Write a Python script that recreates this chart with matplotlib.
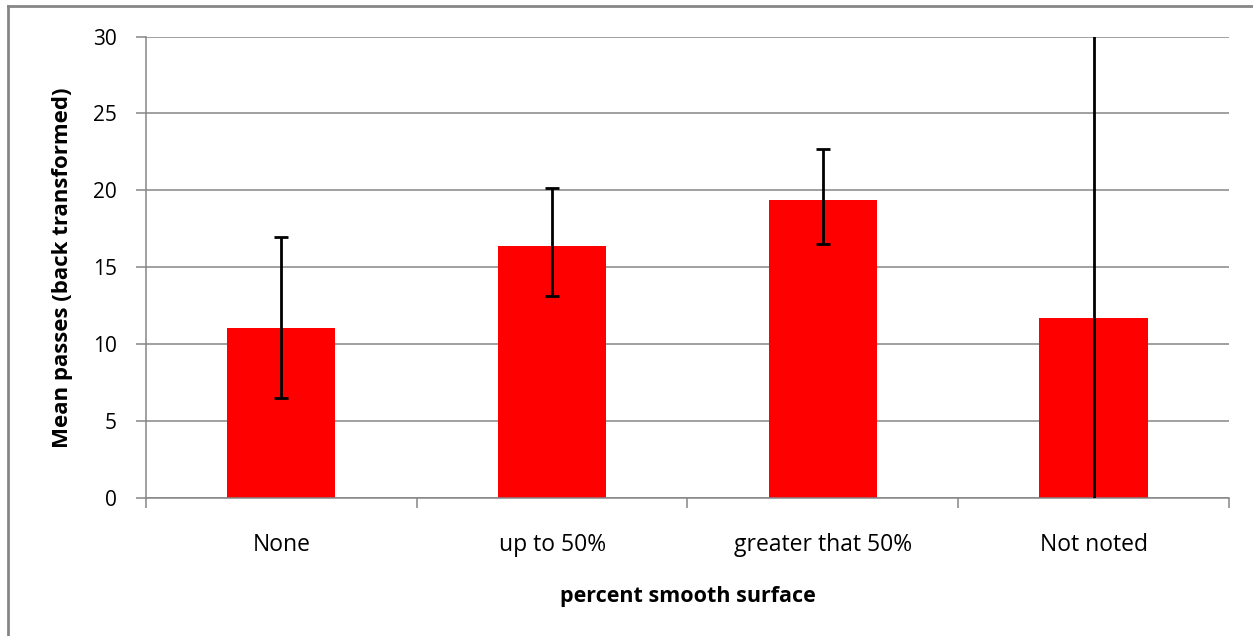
import numpy as np
import matplotlib.pyplot as plt
from matplotlib.lines import Line2D

categories = ['None', 'up to 50%', 'greater that 50%', 'Not noted']
means = [11.07, 16.41, 19.40, 11.72]
upper = [16.99, 20.18, 22.66, 36.0]
lower = [6.51, 13.15, 16.50, 0.0]

GREY = '#868686'
plt.rcParams['font.family'] = ['Open Sans', 'DejaVu Sans']

fig = plt.figure(figsize=(12.53, 6.36), dpi=100)
ax = fig.add_axes([0.1165, 0.217, 0.8643, 0.7255])

x = np.arange(len(categories))
ax.bar(x, means, width=0.4, color='#FF0000', zorder=2)

means_a = np.array(means)
err_lo = means_a - np.array(lower)
err_hi = np.array(upper) - means_a
# first three get caps, the last one runs off the top of the chart
ax.errorbar(x[:3], means_a[:3], yerr=[err_lo[:3], err_hi[:3]], fmt='none',
            ecolor='black', elinewidth=2, capsize=4.7, capthick=2, zorder=3)
ax.errorbar(x[3:], means_a[3:], yerr=[err_lo[3:], err_hi[3:]], fmt='none',
            ecolor='black', elinewidth=2, capsize=0, zorder=3)

ax.set_xlim(-0.5, len(categories) - 0.5)
ax.set_ylim(0, 30)
ax.set_yticks(range(0, 31, 5))
ax.yaxis.grid(True, color=GREY, linewidth=1.1, zorder=0)
ax.set_axisbelow(True)

ax.set_xticks(x)
ax.set_xticklabels(categories, fontsize=16.5)
ax.set_xticks(np.arange(-0.5, len(categories)), minor=True)
ax.tick_params(axis='x', which='major', length=0, pad=25)
ax.tick_params(axis='x', which='minor', length=7, width=1.1, color=GREY, direction='out')
ax.tick_params(axis='y', length=7, width=1.1, color=GREY, labelsize=15, pad=14)

for side in ['top', 'right']:
    ax.spines[side].set_visible(False)
for side in ['left', 'bottom']:
    ax.spines[side].set_color(GREY)
    ax.spines[side].set_linewidth(1.1)

ax.set_ylabel('Mean passes (back transformed)', fontsize=16, fontweight='bold', labelpad=14)
ax.set_xlabel('percent smooth surface', fontsize=15.5, fontweight='bold', labelpad=21)

# grey frame around the chart (only left and top are in view)
fig.add_artist(Line2D([8 / 1253, 8 / 1253], [0, 1 - 6 / 636], color=GREY, linewidth=2,
                      transform=fig.transFigure))
fig.add_artist(Line2D([8 / 1253, 1], [1 - 6 / 636, 1 - 6 / 636], color=GREY, linewidth=2,
                      transform=fig.transFigure))

fig.savefig('out.png', dpi=100)
